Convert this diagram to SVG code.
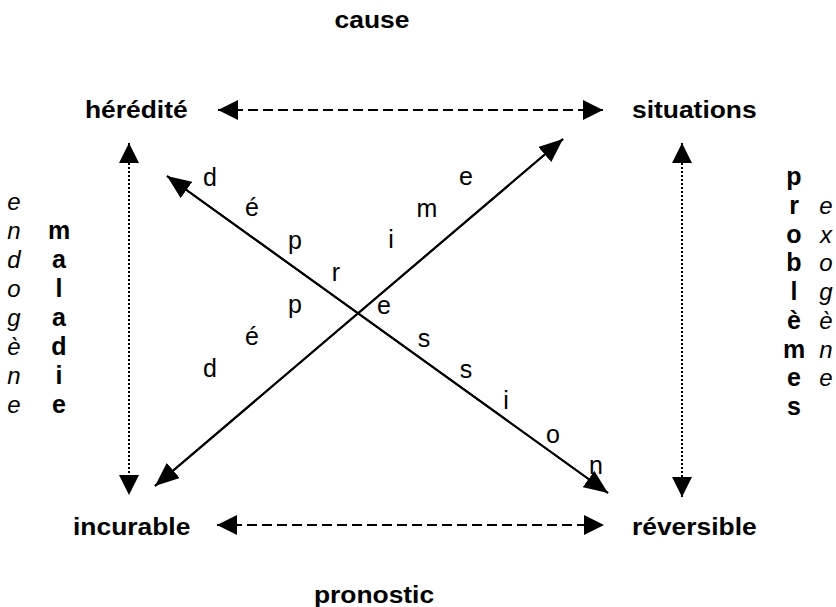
<svg xmlns="http://www.w3.org/2000/svg" width="836" height="607" viewBox="0 0 836 607">
<style>
.b{font-family:"Liberation Sans",Arial,sans-serif;font-weight:bold;font-size:24px;fill:#000}
.r{font-family:"Liberation Sans",Arial,sans-serif;font-size:25px;fill:#000;text-anchor:middle}
.i{font-family:"Liberation Sans",Arial,sans-serif;font-style:italic;font-size:24px;fill:#000;text-anchor:middle}
.bc{font-family:"Liberation Sans",Arial,sans-serif;font-weight:bold;font-size:25px;fill:#000;text-anchor:middle}
.dash{stroke:#000;stroke-width:2;stroke-dasharray:10,5;fill:none}
.dot{stroke:#000;stroke-width:2;stroke-dasharray:2,2;fill:none}
.solid{stroke:#000;stroke-width:2;fill:none}
</style>
<defs>
<marker id="ah" viewBox="0 0 20 20" refX="20" refY="10" markerWidth="20" markerHeight="20" markerUnits="userSpaceOnUse" orient="auto-start-reverse">
<path d="M0,0 L20,10 L0,20 Z" fill="#000"/>
</marker>
<marker id="ad" viewBox="0 0 24 20" refX="24" refY="10" markerWidth="24" markerHeight="20" markerUnits="userSpaceOnUse" orient="auto">
<path d="M0,0 L24,10 L0,20 Z" fill="#000"/>
</marker>
</defs>
<g id="cause"><text class="b" transform="translate(372,28) scale(1.1,1)" text-anchor="middle">cause</text></g>
<g id="heredite"><text class="b" transform="translate(85,118) scale(1.1,1)">hérédité</text></g>
<g id="situations"><text class="b" transform="translate(632,118) scale(1.1,1)">situations</text></g>
<g id="incurable"><text class="b" transform="translate(73,535) scale(1.1,1)">incurable</text></g>
<g id="reversible"><text class="b" transform="translate(632,535) scale(1.1,1)">réversible</text></g>
<g id="pronostic"><text class="b" transform="translate(374,603) scale(1.1,1)" text-anchor="middle">pronostic</text></g>
<g id="connectors">
<line class="dash" x1="218" y1="110" x2="603" y2="110" marker-start="url(#ah)" marker-end="url(#ah)"/>
<line class="dash" x1="217" y1="525" x2="604" y2="525" marker-start="url(#ah)" marker-end="url(#ah)"/>
<line class="dot" x1="129" y1="143" x2="129" y2="495" marker-start="url(#ah)" marker-end="url(#ah)"/>
<line class="dot" x1="682" y1="143" x2="682" y2="497" marker-start="url(#ah)" marker-end="url(#ah)"/>
<line class="solid" x1="608" y1="493" x2="167" y2="176" marker-end="url(#ad)"/>
<line class="solid" x1="167" y1="176" x2="608" y2="493" marker-end="url(#ad)"/>
<line class="solid" x1="563" y1="139" x2="155" y2="486" marker-end="url(#ad)"/>
<line class="solid" x1="155" y1="486" x2="563" y2="139" marker-end="url(#ad)"/>
</g>
<g id="depression">
<text class="r" x="210" y="186">d</text>
<text class="r" x="252" y="216">é</text>
<text class="r" x="295" y="249">p</text>
<text class="r" x="336" y="281">r</text>
<text class="r" x="384" y="314">e</text>
<text class="r" x="424" y="347">s</text>
<text class="r" x="466" y="378">s</text>
<text class="r" x="506" y="409">i</text>
<text class="r" x="553" y="443">o</text>
<text class="r" x="596" y="474">n</text>
</g>
<g id="deprime">
<text class="r" x="210" y="377">d</text>
<text class="r" x="252" y="345">é</text>
<text class="r" x="295" y="313">p</text>
<text class="r" x="391" y="248">i</text>
<text class="r" x="427" y="217">m</text>
<text class="r" x="466" y="185">e</text>
</g>
<g id="endogene">
<text class="i" x="14" y="210">e</text>
<text class="i" x="14" y="239">n</text>
<text class="i" x="14" y="268">d</text>
<text class="i" x="14" y="297">o</text>
<text class="i" x="14" y="326">g</text>
<text class="i" x="14" y="355">è</text>
<text class="i" x="14" y="384">n</text>
<text class="i" x="14" y="413">e</text>
</g>
<g id="maladie">
<text class="bc" x="59" y="239">m</text>
<text class="bc" x="59" y="268">a</text>
<text class="bc" x="59" y="297">l</text>
<text class="bc" x="59" y="326">a</text>
<text class="bc" x="59" y="355">d</text>
<text class="bc" x="59" y="384">i</text>
<text class="bc" x="59" y="413">e</text>
</g>
<g id="problemes">
<text class="bc" x="794" y="185">p</text>
<text class="bc" x="794" y="214">r</text>
<text class="bc" x="794" y="243">o</text>
<text class="bc" x="794" y="271">b</text>
<text class="bc" x="794" y="300">l</text>
<text class="bc" x="794" y="329">è</text>
<text class="bc" x="794" y="358">m</text>
<text class="bc" x="794" y="386">e</text>
<text class="bc" x="794" y="415">s</text>
</g>
<g id="exogene">
<text class="i" x="826" y="214">e</text>
<text class="i" x="826" y="243">x</text>
<text class="i" x="826" y="271">o</text>
<text class="i" x="826" y="300">g</text>
<text class="i" x="826" y="329">è</text>
<text class="i" x="826" y="358">n</text>
<text class="i" x="826" y="386">e</text>
</g>
</svg>
